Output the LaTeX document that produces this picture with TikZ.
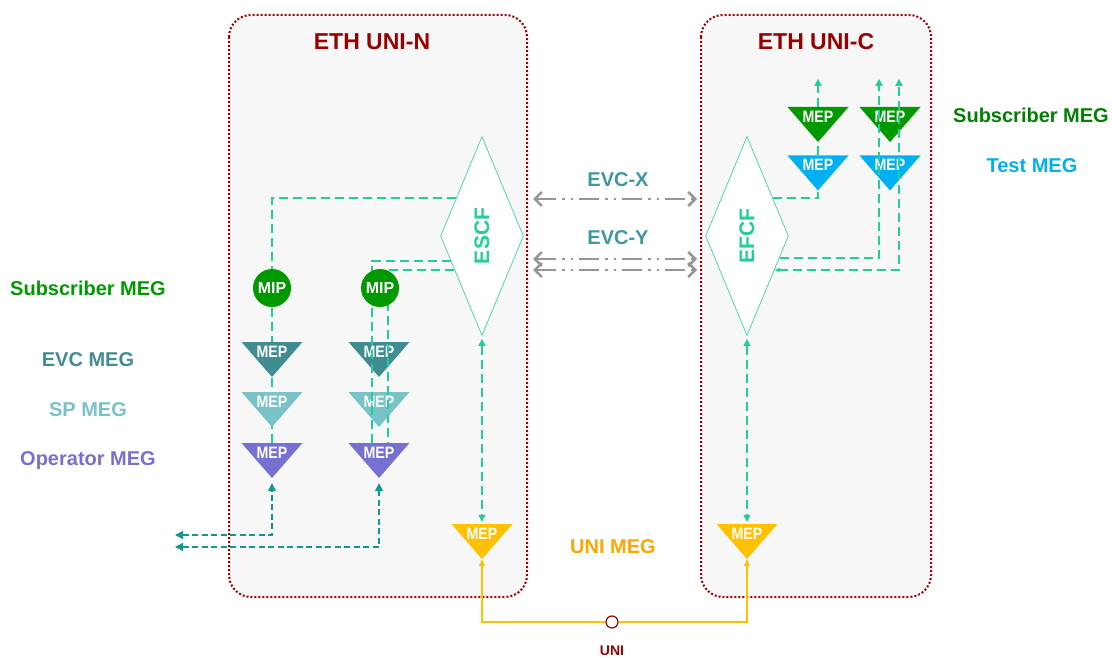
\documentclass[tikz,border=0pt]{standalone}
\usepackage{fontspec}
\setmainfont{Liberation Sans}
\newfontfamily\narrowfont[FakeStretch=0.86]{Liberation Sans}
\usetikzlibrary{shapes.geometric, positioning, arrows.meta, calc, backgrounds}

\definecolor{BoxColor}{RGB}{153,0,0}
\definecolor{BoxFill}{RGB}{247,247,247}
\definecolor{LinkColor}{RGB}{32,206,152}
\definecolor{CfBorder}{RGB}{80,214,172}
\definecolor{TealColor}{RGB}{16,150,150}
\definecolor{EvcGray}{RGB}{150,150,150}
\definecolor{EvcText}{RGB}{62,152,158}
\definecolor{SubColor}{RGB}{0,153,0}
\definecolor{SubDark}{RGB}{0,128,0}
\definecolor{EvcColor}{RGB}{64,140,145}
\definecolor{SpColor}{RGB}{120,194,200}
\definecolor{OpColor}{RGB}{118,112,210}
\definecolor{TestColor}{RGB}{0,176,240}
\definecolor{UniColor}{RGB}{255,192,0}
\definecolor{UniText}{RGB}{255,165,0}

\tikzstyle{box} = [draw=BoxColor, fill=BoxFill, line width=2pt, dash pattern=on 2pt off 2pt, rounded corners=22pt]
\tikzstyle{title} = [text=BoxColor, font=\bfseries\fontsize{23}{23}\selectfont]
\tikzstyle{meg} = [font=\bfseries\fontsize{20}{20}\selectfont]
\tikzstyle{cf} = [diamond, draw=CfBorder, fill=white, line width=0.8pt, minimum width=83pt, minimum height=199pt, aspect=0.42, inner sep=0pt, text=LinkColor, font=\bfseries\fontsize{21}{21}\selectfont]
\tikzstyle{mip} = [circle, fill=SubColor, minimum size=38pt, inner sep=0pt, text=white, font=\bfseries\fontsize{16}{16}\selectfont]
\tikzstyle{link} = [LinkColor, line width=1.4pt, dash pattern=on 9pt off 5pt, >={Triangle[length=7pt,width=7pt]}]
\tikzstyle{tealpath} = [TealColor, line width=1.4pt, dash pattern=on 6pt off 3.5pt, >={Triangle[length=8pt,width=8pt]}]
\tikzstyle{uniline} = [UniColor, line width=1.4pt, >={Triangle[length=7pt,width=6pt]}]
\tikzstyle{evc} = [EvcGray, line width=2.5pt, dash pattern=on 20pt off 6pt on 2.5pt off 6pt on 2.5pt off 6pt, <->, >={Straight Barb[length=7pt,width=14pt]}]
\tikzstyle{port} = [circle, draw=BoxColor, fill=white, line width=1.2pt, minimum size=12pt, inner sep=0pt]
\tikzset{mep/.style={minimum width=61pt, minimum height=35pt, inner sep=0pt, text=white,
    font=\narrowfont\bfseries\fontsize{16.5}{16.5}\selectfont,
    path picture={\fill[#1] (path picture bounding box.north west) -- (path picture bounding box.north east) -- (path picture bounding box.south) -- cycle;}}}

\begin{document}
\begin{tikzpicture}[x=1pt, y=-1pt]
    \useasboundingbox (0,0) rectangle (1112,658);

    % equipment boxes
    \begin{scope}[on background layer]
        \draw[box] (229,15) rectangle (527,597);
        \draw[box] (701,15) rectangle (931,597);
    \end{scope}
    \node[title] (titleN) at (372,42) {ETH UNI-N};
    \node[title] (titleC) at (816,42) {ETH UNI-C};

    % forwarding functions
    \node[cf] (escf) at (482,236) {\rotatebox{90}{ESCF}};
    \node[cf] (efcf) at (747,236) {\rotatebox{90}{EFCF}};

    % MEG labels
    \node[meg, text=SubColor] (subL) at (88,288) {Subscriber MEG};
    \node[meg, text=EvcColor] (evcL) at (88,360) {EVC MEG};
    \node[meg, text=SpColor] (spL) at (88,410) {SP MEG};
    \node[meg, text=OpColor] (opL) at (88,461) {Operator MEG};
    \node[meg, text=SubDark] (subR) at (1031,115) {Subscriber MEG};
    \node[meg, text=TestColor] (testR) at (1032,166) {Test MEG};
    \node[meg, text=UniText] (uniL) at (613,547) {UNI MEG};
    \node[meg, text=EvcText] (evcX) at (618,180) {EVC-X};
    \node[meg, text=EvcText] (evcY) at (618,238) {EVC-Y};

    % MEP stacks, UNI-N
    \foreach \col/\x in {A/272, B/379} {
        \node[mep=EvcColor] (evc\col) at (\x,359.5) {\raisebox{2pt}[0pt][0pt]{MEP}};
        \node[mep=SpColor] (sp\col) at (\x,409.5) {\raisebox{2pt}[0pt][0pt]{MEP}};
        \node[mep=OpColor] (op\col) at (\x,460.5) {\raisebox{2pt}[0pt][0pt]{MEP}};
    }
    \node[mip] (mipA) at (272,288) {MIP};

    % MEP stacks, UNI-C
    \foreach \col/\x in {A/818, B/890} {
        \node[mep=SubColor] (sub\col) at (\x,124.5) {\raisebox{2pt}[0pt][0pt]{MEP}};
        \node[mep=TestColor] (test\col) at (\x,173) {\raisebox{2pt}[0pt][0pt]{MEP}};
    }

    % UNI MEPs
    \node[mep=UniColor] (uniN) at (482,541.5) {\raisebox{2pt}[0pt][0pt]{MEP}};
    \node[mep=UniColor] (uniC) at (747,541.5) {\raisebox{2pt}[0pt][0pt]{MEP}};

    % paths behind the MEPs
    \begin{scope}[on background layer]
        \draw[link] ($(escf.north)!0.62!(escf.west)$) -| (opA.north);
        \draw[link] ($(efcf.north)!0.62!(efcf.east)$) -| (testA.south);
        \draw[link] (testA.north) -- (subA.south);
    \end{scope}

    % paths over the MEPs
    \draw[link] ($(escf.west)!0.25!(escf.south)$) -| ([xshift=-7pt]opB.north);
    \draw[link] ($(escf.west)!0.34!(escf.south)$) -| ([xshift=9pt]opB.north);
    \node[mip] (mipB) at (380,288) {MIP};

    \draw[link, ->] (subA.north) -- ++(0,-28);
    \draw[link, ->] ($(efcf.east)!0.22!(efcf.south)$) -| ($(subB.north)+(-11,-28)$);
    \draw[link, {Triangle[length=5pt,width=4pt]}-{Triangle[length=7pt,width=7pt]}] ($(efcf.east)!0.34!(efcf.south)$) -| ($(subB.north)+(9,-28)$);

    \draw[link, <->, shorten <=3pt, shorten >=2pt] (escf.south) -- (uniN.north);
    \draw[link, <->, shorten <=3pt, shorten >=2pt] (efcf.south) -- (uniC.north);

    % customer side
    \coordinate (outA) at (175,535);
    \coordinate (outB) at (175,547);
    \draw[tealpath, <->, shorten >=5pt] (outA) -| (opA.south);
    \draw[tealpath, <->, shorten >=5pt] (outB) -| (opB.south);

    % EVCs
    \coordinate (xL) at (533,199);
    \coordinate (xR) at (697,199);
    \coordinate (yL1) at (533,259);
    \coordinate (yR1) at (697,259);
    \coordinate (yL2) at (533,270);
    \coordinate (yR2) at (697,270);
    \draw[evc] (xL) -- (xR);
    \draw[evc] (yL1) -- (yR1);
    \draw[evc] (yL2) -- (yR2);

    % UNI link
    \node[port] (uniPort) at (612,622) {};
    \node[text=BoxColor, font=\bfseries\fontsize{14}{14}\selectfont] (uniText) at (612,651) {UNI};
    \draw[uniline, ->] (uniPort) -| (uniN.south);
    \draw[uniline, ->] (uniPort) -| (uniC.south);
\end{tikzpicture}
\end{document}
